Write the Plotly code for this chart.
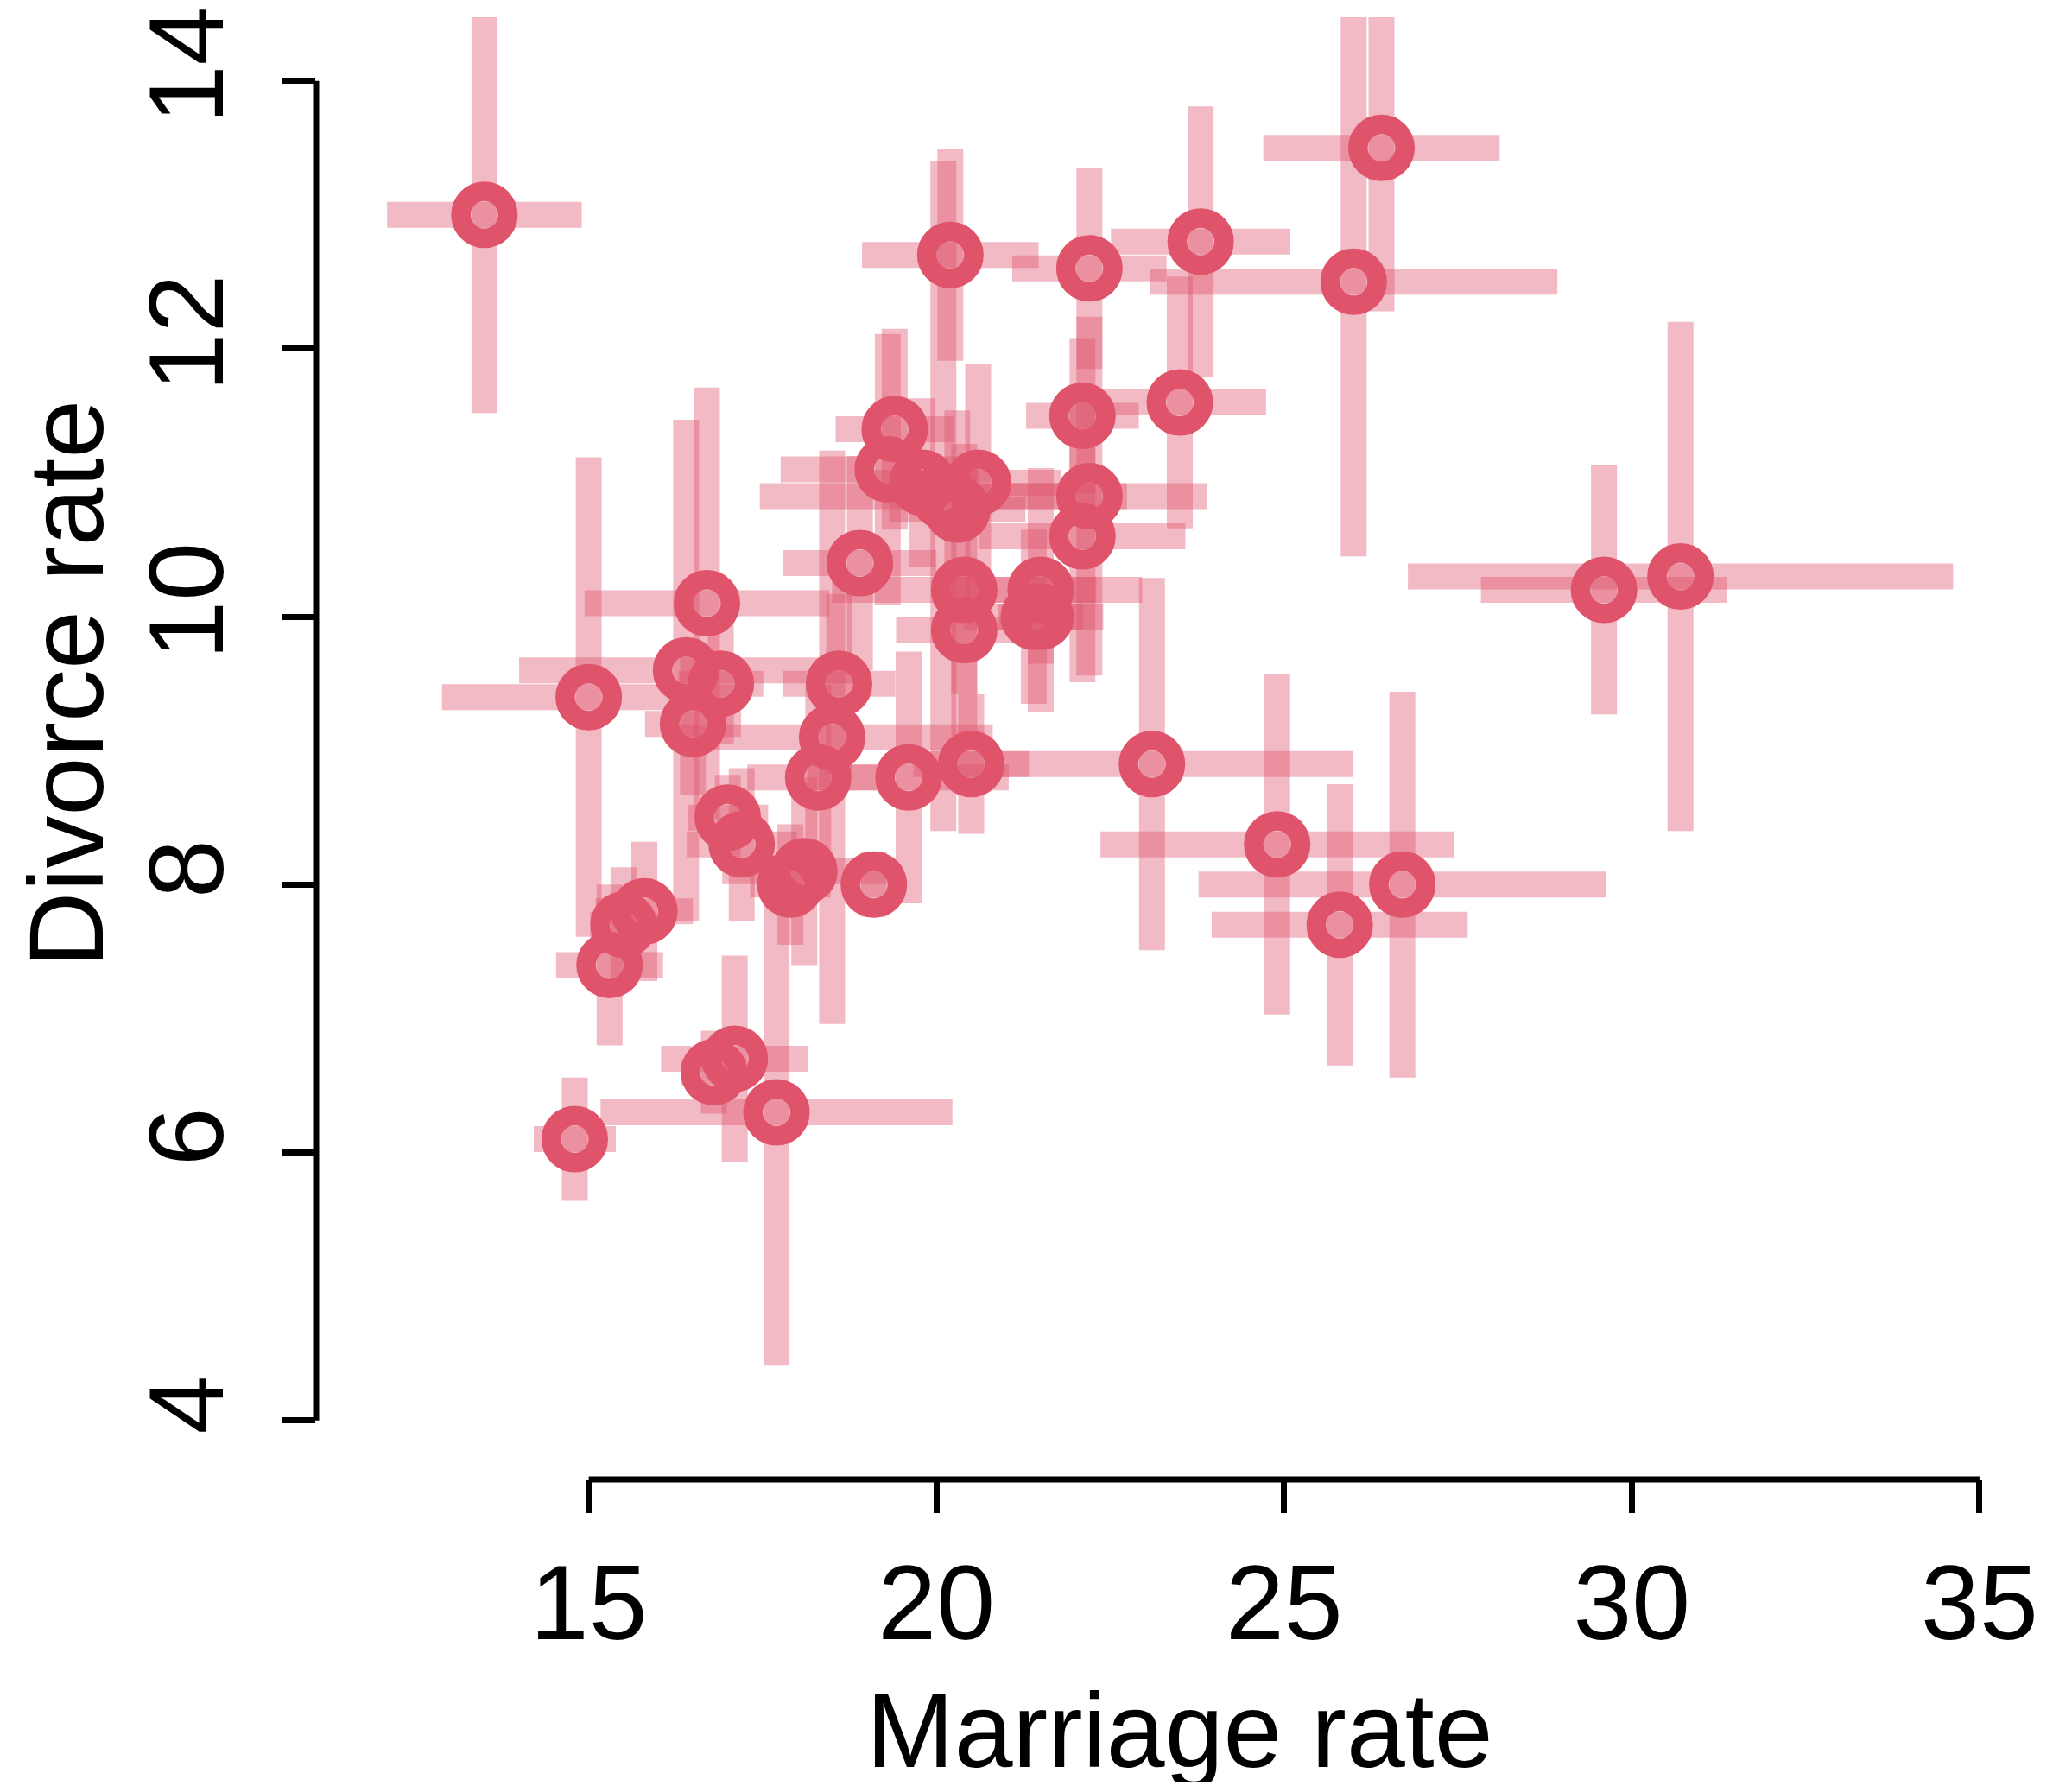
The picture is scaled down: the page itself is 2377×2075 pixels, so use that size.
import plotly.graph_objects as go

# WaffleDivorce data: marriage rate / divorce rate with standard errors
states = ["AL","AK","AZ","AR","CA","CO","CT","DE","DC","FL","GA","HI","ID","IL","IN","IA","KS","KY","LA","ME",
          "MD","MA","MI","MN","MS","MO","MT","NE","NH","NJ","NM","NY","NC","ND","OH","OK","OR","PA","RI","SC",
          "SD","TN","TX","UT","VT","VA","WA","WV","WI","WY"]
marriage = [20.2,26.0,20.3,26.4,19.1,23.5,17.1,23.1,17.7,17.0,22.1,24.9,25.8,17.9,19.8,21.5,22.1,22.2,20.6,13.5,
            18.3,15.8,16.5,15.3,19.3,18.6,18.5,19.6,16.7,14.8,20.4,16.8,20.4,26.7,16.9,23.8,18.9,15.5,15.0,18.1,
            20.1,19.4,21.5,29.6,16.4,20.5,21.4,22.2,17.2,30.7]
marriage_se = [1.27,2.93,0.98,1.70,0.39,1.24,1.06,2.89,2.53,0.58,0.81,2.54,1.84,0.58,0.81,1.46,1.48,1.11,1.19,1.40,
               1.02,0.70,0.69,0.77,1.54,0.81,2.31,1.44,1.76,0.59,1.90,0.47,0.98,2.93,0.61,1.29,1.10,0.48,2.11,1.18,
               2.64,0.85,0.61,1.77,2.40,0.83,1.00,1.69,0.79,3.92]
divorce = [12.7,12.5,10.8,13.5,8.0,11.6,6.7,8.9,6.3,8.5,11.5,8.3,7.7,8.0,11.0,10.2,10.6,12.6,11.0,13.0,
           8.8,7.8,9.2,7.4,11.1,9.5,9.1,8.8,10.1,6.1,10.2,6.6,9.9,8.0,9.5,12.8,10.4,7.7,9.4,8.1,
           10.9,11.4,10.0,10.2,9.6,8.9,10.0,10.9,8.3,10.3]
divorce_se = [0.79,2.05,0.74,1.22,0.24,0.94,0.77,1.39,1.89,0.32,0.58,1.27,1.05,0.45,0.63,0.91,1.09,0.75,0.89,1.48,
              0.69,0.52,0.53,0.60,1.01,0.67,2.14,0.94,1.61,0.46,1.09,0.31,0.48,1.44,0.45,1.01,0.80,0.43,1.79,0.70,
              2.50,0.75,0.35,0.93,1.87,0.52,0.65,1.34,0.57,1.90]

x_ticks = [15, 20, 25, 30, 35]
y_ticks = [4, 6, 8, 10, 12, 14]

RED = "#DF536B"
BAR = "rgba(223,83,107,0.4)"
FONT = "Liberation Sans, Arial, Helvetica, sans-serif"

fig = go.Figure()
fig.add_trace(go.Scatter(
    x=marriage, y=divorce, mode="markers", text=states,
    marker=dict(symbol="circle-open", size=54.5, color=RED,
                line=dict(width=22.5, color=RED)),
    error_x=dict(type="data", array=marriage_se, visible=True, color=BAR, thickness=30, width=0),
    error_y=dict(type="data", array=divorce_se, visible=True, color=BAR, thickness=30, width=0),
    showlegend=False,
))

fig.update_layout(
    width=2361, height=2059,
    margin=dict(l=358, r=3, t=0, b=354, pad=0),
    plot_bgcolor="white", paper_bgcolor="white",
    font=dict(family=FONT, size=122, color="black"),
    xaxis=dict(range=[11.08, 35.92], tickvals=x_ticks, ticktext=[str(v) for v in x_ticks],
               ticks="outside", ticklen=38, tickwidth=7, tickcolor="black",
               showgrid=False, zeroline=False, showline=False, ticklabeloverflow="allow",
               tickfont=dict(size=122, family=FONT)),
    yaxis=dict(range=[3.56, 14.475], tickvals=y_ticks, ticktext=[str(v) for v in y_ticks],
               ticks="outside", ticklen=38, tickwidth=7, tickcolor="black",
               showgrid=False, zeroline=False, showline=False, tickangle=-90,
               ticklabeloverflow="allow", ticklabelstandoff=20,
               tickfont=dict(size=122, family=FONT)),
    shapes=[
        dict(type="line", xref="x", yref="paper", x0=x_ticks[0], x1=x_ticks[-1], y0=0, y1=0,
             line=dict(color="black", width=7), layer="above"),
        dict(type="line", xref="paper", yref="y", x0=0, x1=0, y0=y_ticks[0], y1=y_ticks[-1],
             line=dict(color="black", width=7), layer="above"),
    ],
    annotations=[
        dict(text="Marriage rate", xref="paper", yref="paper", x=0.5, y=-0.1718,
             xanchor="center", yanchor="middle", showarrow=False, height=118, valign="middle",
             font=dict(size=122, family=FONT)),
        dict(text="Divorce rate", xref="paper", yref="y", x=-0.1445, y=9.5,
             xanchor="center", yanchor="middle", showarrow=False, textangle=-90,
             height=118, valign="middle",
             font=dict(size=122, family=FONT)),
    ],
)

fig.write_html("out.html")
